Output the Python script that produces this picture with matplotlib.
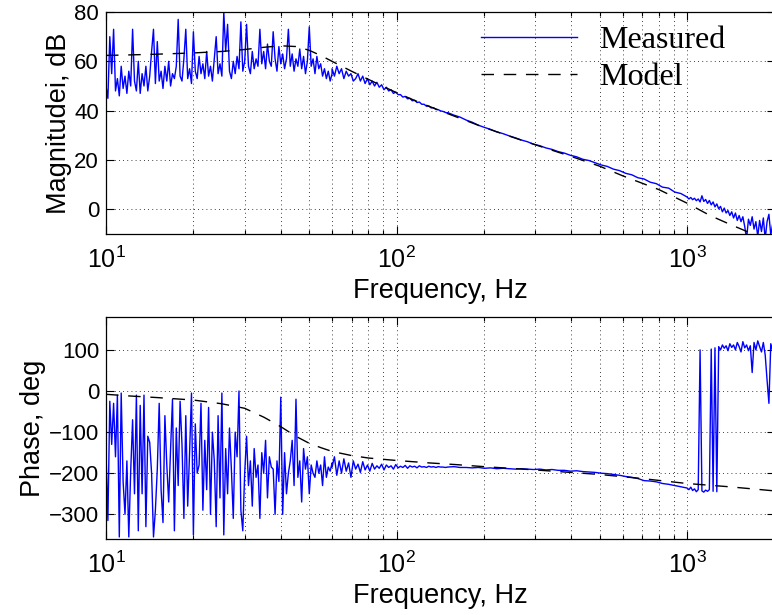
import numpy as np
import matplotlib
matplotlib.use("Agg")
import matplotlib.pyplot as plt

plt.rcParams["font.family"] = ["Liberation Sans", "DejaVu Sans"]
plt.rcParams["mathtext.fontset"] = "custom"
plt.rcParams["mathtext.rm"] = "Liberation Sans"
plt.rcParams["mathtext.it"] = "Liberation Sans:italic"

# ---- measured magnitude (dB), by frequency band ----
# 10 - 60 Hz
mag_a = [50, 45, 70, 55, 73, 48, 53, 46, 58, 49,
         54, 47, 56, 50, 73, 52, 48, 60, 47, 55,
         50, 58, 48, 54, 64, 73, 51, 68, 52, 56,
         49, 58, 52, 60, 50, 55, 53, 58, 77, 54,
         52, 61, 73, 53, 57, 51, 72, 56, 53, 62,
         55, 59, 53, 64, 54, 58, 52, 61, 70, 55,
         59, 54, 80, 64, 75, 56, 53, 60, 55, 62,
         57, 76, 56, 60, 75, 58, 55, 64, 57, 61,
         58, 73, 59, 64, 57, 67, 60, 58, 72, 61,
         56, 66, 59, 63, 57, 61, 73, 58, 63, 56,
         61, 58, 65, 57, 62, 55, 60, 74, 58, 61,
         55, 62, 57, 59, 54, 57, 53, 56, 52, 55]
# 60 - 150 Hz
mag_b = [57, 54, 58, 55, 57, 53, 56, 54, 55, 52,
         53, 55, 52, 54, 51, 53, 50.5, 52, 50, 51.5,
         49.5, 50.5, 48.5, 49.5, 48, 48.5, 47, 47.5, 46.5, 46.5,
         45.5, 45.8, 44.8, 45, 44, 44.2, 43.3, 43.5, 42.6, 42.6,
         41.8, 41.9, 41.1, 41.2, 40.5, 40.4, 39.9, 39.7, 39.3, 39.0]
# 150 - 1000 Hz
mag_c = [39.2, 38.2, 37.4, 36.2, 35.3, 34.1, 33.2, 32.4, 31.4, 30.7,
         29.8, 29.0, 28.1, 27.4, 26.4, 25.8, 24.9, 24.3, 23.4, 22.8,
         21.9, 21.3, 20.3, 19.8, 18.9, 18.0, 17.4, 16.3, 15.7, 14.6,
         14.0, 12.8, 12.3, 11.0, 10.4, 9.0, 8.6, 7.0, 6.4, 5.0]
# 1000 - 2000 Hz
mag_d = [5.0, 4.2, 4.8, 3.9, 4.5, 3.5, 4.2, 3.0, 5.5, 3.2,
         4.0, 2.4, 3.6, 1.8, 3.0, 1.0, 2.2, 0.2, 1.2, -1.0,
         0.5, -1.5, -0.5, -2.5, -1.0, -3.5, -1.5, -4.5, -2.5, -5.0,
         -3.0, -7.0, -12.0, -4.0, -6.5, -3.0, -8.0, -5.0, -11.0, -4.5,
         -9.0, -3.5, -12.0, -5.0, -2.0, -10.5, -6.0, 0.5]

# ---- measured phase (deg) ----
ph_a = [-150, -315, -25, -130, -30, -160, -10, -355, -5, -220,
        -300, -170, -355, -195, -70, -250, -10, -340, -35, -250,
        -10, -330, -110, -125, -200, -355, -290, -190, -30, -240,
        -320, -60, -180, -270, -140, -20, -340, -90, -230, -25,
        -130, -310, -60, -280, -150, -5, -350, -80, -200, -180,
        -30, -290, -120, -240, -40, -300, -100, -170, -330, -60,
        -260, -5, -350, -140, -250, -90, -190, -310, -100, -160,
        0, -290, -340, -200, -110, -230, -170, -280, -140, -210,
        -180, -310, -150, -200, -120, -260, -160, -185, -190, -300,
        -170, -220, -15, -300, -150, -250, -200, -170, -120, -230,
        -20, -210, -170, -270, -140, -190, -160, -250, -180, -200,
        -210, -170, -200, -180, -230, -160, -210, -185, -195, -175]
ph_b = [-185, -160, -205, -170, -200, -165, -195, -175, -210, -170,
        -190, -178, -198, -172, -192, -180, -195, -176, -190, -182,
        -188, -178, -192, -180, -186, -182, -190, -179, -187, -183,
        -186, -181, -188, -182, -185, -183, -187, -182, -185, -184,
        -186, -183, -185, -184, -186, -184, -185, -185, -186, -185]
ph_c = [-185, -184, -186, -186, -187, -186, -188, -187, -189, -188,
        -189, -190, -189, -190, -191, -190, -192, -191, -193, -193,
        -195, -194, -196, -197, -198, -200, -201, -203, -205, -208,
        -210, -213, -218, -219, -221, -225, -227, -230, -233, -236]
ph_d = [-236, -240, -234, -242, -238, -245, -240, 100, -243, -246,
        -241, -244, -240, 102, -244, 105, -245, 108, 100, 112,
        104, 110, 98, 115, 106, 112, 100, 118, 108, 95,
        120, 105, 112, 98, 110, 45, 118, 100, 122, 108,
        95, 118, 88, 27, -30, 115, 98, 105]

band_edges = [10, 60, 150, 1000, 2000]

# ---- model ----
model_freq = [10, 12, 15, 20, 25, 30, 35, 40, 45, 50, 55, 60, 70, 80, 90,
              100, 120, 150, 200, 250, 300, 400, 500, 600, 700, 800, 1000,
              1200, 1400, 1700, 2000]
model_mag = [62.4, 62.6, 62.9, 63.4, 64.0, 64.8, 65.7, 66.3, 66.0, 64.5,
             62.3, 60.0, 56.0, 52.7, 49.8, 47.3, 43.3, 38.8, 33.2, 29.3,
             26.2, 21.4, 17.5, 13.6, 10.6, 8.0, 2.5, -2.5, -6.0, -10.2, -14.0]
model_ph_freq = [10, 12, 15, 20, 25, 30, 35, 40, 45, 50, 55, 60, 70, 80,
                 100, 130, 160, 200, 300, 500, 700, 1000, 1400, 2000]
model_ph = [-8, -12, -16, -22, -31, -42, -64, -87, -110, -127, -138, -147,
            -157, -163, -169, -175, -179, -184, -192, -203, -213, -225,
            -233, -243]


def band_freqs(values_list):
    parts = []
    for k, vals in enumerate(values_list):
        parts.append(np.geomspace(band_edges[k], band_edges[k + 1], len(vals)))
    return np.concatenate(parts)


mag_freq = band_freqs([mag_a, mag_b, mag_c, mag_d])
mag_meas = np.concatenate([mag_a, mag_b, mag_c, mag_d])
ph_freq = band_freqs([ph_a, ph_b, ph_c, ph_d])
ph_meas = np.concatenate([ph_a, ph_b, ph_c, ph_d])

W, H = 772, 615
fig = plt.figure(figsize=(W / 100, H / 100), dpi=100)
left = 106 / W
width = (774.5 - 106) / W
ax1 = fig.add_axes([left, 1 - 234 / H, width, 222 / H])
ax2 = fig.add_axes([left, 1 - 539 / H, width, 222 / H])

blue = "#0000ff"
dash = (9, 7)
label_size = 19.5
for ax in (ax1, ax2):
    ax.set_xscale("log")
    ax.set_xlim(10, 2000)
    ax.grid(True, which="major", linestyle=(0, (1, 4)), color="k", linewidth=0.6)
    ax.grid(True, which="minor", axis="x", linestyle=(0, (1, 4)), color="k", linewidth=0.6)
    ax.tick_params(which="both", direction="in", top=True, right=True, width=0.8)
    ax.tick_params(which="major", length=6)
    ax.tick_params(which="minor", length=3)
    ax.tick_params(axis="x", pad=9, labelsize=18)
    ax.tick_params(axis="y", pad=5, labelsize=16)
    for sp in ax.spines.values():
        sp.set_linewidth(0.9)
    ax.set_xlabel("Frequency, Hz", fontsize=label_size, labelpad=4)

ax1.plot(mag_freq, mag_meas, color=blue, linewidth=1.0, label="Measured")
ax1.plot(model_freq, model_mag, color="k", linewidth=1.0, dashes=dash, label="Model")
ax1.set_ylim(-10, 80)
ax1.set_yticks([0, 20, 40, 60, 80])
ax1.set_ylabel("Magnitudei, dB", fontsize=label_size, labelpad=2)

leg = ax1.legend(loc="upper left", bbox_to_anchor=(0.561, 0.94), frameon=False,
                 prop={"family": "Liberation Serif", "size": 23},
                 handlelength=3.0, handletextpad=0.7, labelspacing=0.25,
                 borderpad=0, borderaxespad=0)

ax2.plot(ph_freq, ph_meas, color=blue, linewidth=1.0)
ax2.plot(model_ph_freq, model_ph, color="k", linewidth=1.0, dashes=dash)
ax2.set_ylim(-360, 180)
ax2.set_yticks([-300, -200, -100, 0, 100])
ax2.set_ylabel("Phase, deg", fontsize=label_size, labelpad=2)

fig.savefig("out.png", dpi=100)
